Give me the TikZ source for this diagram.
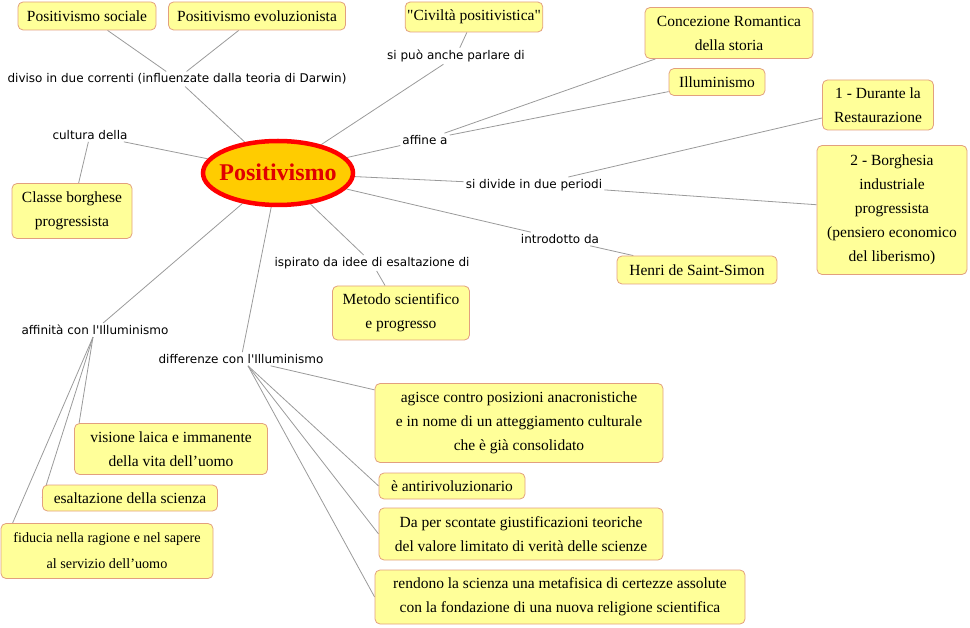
\documentclass[tikz,border=0pt]{standalone}
\usepackage{fontspec}
\setmainfont[Ligatures=TeXOff]{Liberation Serif}
\newfontfamily\etichetta[Ligatures=TeXOff]{DejaVu Sans}
\usetikzlibrary{shapes.geometric,backgrounds}

\definecolor{fondobox}{HTML}{FFFF99}
\definecolor{bordobox}{HTML}{E2A07E}
\definecolor{grigiolinea}{HTML}{9A9A9A}
\definecolor{giallonucleo}{HTML}{FFCC00}
\definecolor{rossonucleo}{HTML}{FF0000}

\begin{document}
\begin{tikzpicture}[x=1pt, y=-1pt,
		concetto/.style={draw=bordobox, line width=0.8pt, fill=fondobox, rounded corners=5pt, align=center, inner sep=2pt, font=\fontsize{15.5}{24}\selectfont},
		frase/.style={font=\etichetta\fontsize{12}{14}\selectfont, inner sep=2pt},
		linea/.style={draw=grigiolinea, line width=0.8pt}]
	\useasboundingbox (0,0) rectangle (970,628);
	
	% concetto centrale
	\node[ellipse, draw=rossonucleo, line width=4.5pt, fill=giallonucleo, minimum width=150, minimum height=64, inner sep=0pt] (pos) at (278,173) {};
	\node[text=red!88!black, font=\bfseries\fontsize{24}{28}\selectfont] (postesto) at (278,172) {Positivismo};
	
	% frasi di collegamento
	\node[frase] (diviso) at (177,79) {diviso in due correnti (influenzate dalla teoria di Darwin)};
	\node[frase] (parlare) at (456,56) {si può anche parlare di};
	\node[frase] (cultura) at (90,135) {cultura della};
	\node[frase] (affine) at (425,140) {affine a};
	\node[frase] (periodi) at (534,185) {si divide in due periodi};
	\node[frase] (introdotto) at (560,239) {introdotto da};
	\node[frase] (ispirato) at (372,263) {ispirato da idee di esaltazione di};
	\node[frase] (affinita) at (95,330) {affinità con l'Illuminismo};
	\node[frase] (differenze) at (241,359) {differenze con l'Illuminismo};
	
	% concetti in alto
	\node[concetto, minimum width=138, minimum height=28] (sociale) at (87,16) {Positivismo sociale};
	\node[concetto, minimum width=177, minimum height=28] (evoluz) at (257,16) {Positivismo evoluzionista};
	\node[concetto, minimum width=122, minimum height=30] (civilta) at (474,17) {"Civiltà positivistica"};
	\node[concetto, minimum width=168, minimum height=51] (romantica) at (729,33) {Concezione Romantica\\della storia};
	\node[concetto, minimum width=96, minimum height=27] (illum) at (717,82) {Illuminismo};
	\node[concetto, minimum width=111, minimum height=50] (restaur) at (878,105) {1 - Durante la\\Restaurazione};
	\node[concetto, minimum width=150, minimum height=129] (borghesia) at (892,210) {2 - Borghesia\\industriale\\progressista\\(pensiero economico\\del liberismo)};
	\node[concetto, minimum width=160, minimum height=28] (henri) at (697,270) {Henri de Saint-Simon};
	\node[concetto, minimum width=137, minimum height=54] (metodo) at (401,313) {Metodo scientifico\\e progresso};
	\node[concetto, minimum width=120, minimum height=55] (classe) at (72,211) {Classe borghese\\progressista};
	
	% affinita
	\node[concetto, minimum width=193, minimum height=51] (laica) at (171,449) {visione laica e immanente\\della vita dell’uomo};
	\node[concetto, minimum width=175, minimum height=26] (scienza) at (130,498) {esaltazione della scienza};
	\node[concetto, minimum width=212, minimum height=55, font=\fontsize{14.2}{26}\selectfont] (fiducia) at (107,551) {fiducia nella ragione e nel sapere\\al servizio dell’uomo};
	
	% differenze
	\node[concetto, minimum width=288, minimum height=79] (agisce) at (519,423) {agisce contro posizioni anacronistiche\\e in nome di un atteggiamento culturale\\che è già consolidato};
	\node[concetto, minimum width=146, minimum height=26] (antiriv) at (452,486) {è antirivoluzionario};
	\node[concetto, minimum width=284, minimum height=52] (scontate) at (521,534) {Da per scontate giustificazioni teoriche\\del valore limitato di verità delle scienze};
	\node[concetto, minimum width=370, minimum height=54] (metafisica) at (560,597) {rendono la scienza una metafisica di certezze assolute\\con la fondazione di una nuova religione scientifica};
	
	% collegamenti
	\begin{scope}[on background layer]
		\draw[linea] (pos) -- (diviso);
		\draw[linea] (diviso) -- (sociale);
		\draw[linea] (diviso) -- (evoluz);
		\draw[linea] (pos) -- (parlare);
		\draw[linea] (parlare) -- (civilta);
		\draw[linea] (pos) -- (cultura);
		\draw[linea] (cultura) -- (classe);
		\draw[linea] (pos) -- (affine);
		\draw[linea] (affine) -- (romantica);
		\draw[linea] (affine) -- (illum);
		\draw[linea] (pos) -- (periodi);
		\draw[linea] (periodi) -- (restaur);
		\draw[linea] (periodi) -- (borghesia);
		\draw[linea] (pos) -- (introdotto);
		\draw[linea] (introdotto) -- (henri);
		\draw[linea] (pos) -- (ispirato);
		\draw[linea] (ispirato) -- (metodo);
		\draw[linea] (pos) -- (affinita);
		\draw[linea] ([xshift=-2pt]affinita.south) -- ([xshift=5pt]laica.north west);
		\draw[linea] ([xshift=-2pt]affinita.south) -- (scienza.west);
		\draw[linea] ([xshift=-2pt]affinita.south) -- ([xshift=12pt]fiducia.north west);
		\draw[linea] (pos) -- (differenze);
		\draw[linea] (differenze) -- (agisce);
		\draw[linea] ([xshift=7pt]differenze.south) -- (antiriv.west);
		\draw[linea] ([xshift=7pt]differenze.south) -- (scontate.west);
		\draw[linea] ([xshift=7pt]differenze.south) -- (metafisica.west);
	\end{scope}
\end{tikzpicture}
\end{document}
